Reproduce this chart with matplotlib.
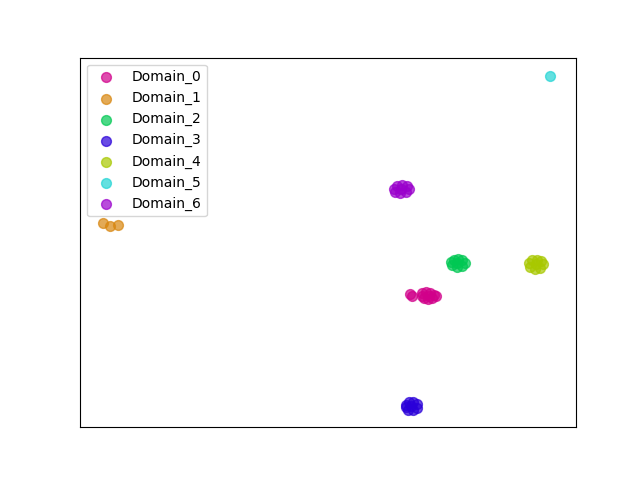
import numpy as np
import matplotlib.pyplot as plt

domains = ['Domain_0', 'Domain_1', 'Domain_2', 'Domain_3', 'Domain_4', 'Domain_5', 'Domain_6']
colors = ['#d1008a', '#d8860f', '#00c853', '#2a00d9', '#a8c800', '#22d4d4', '#9a00cc']

# embedding coordinates per domain (arbitrary units)
x0 = [41.0, 41.2, 42.2, 42.6, 43.0, 43.4, 42.4, 42.8, 43.2, 43.6, 42.2, 42.9]
y0 = [-29.4, -29.6, -29.3, -29.2, -29.3, -29.5, -29.8, -29.9, -29.8, -29.6, -29.6, -29.6]
x1 = [10.3, 11.0, 11.8]
y1 = [-22.3, -22.6, -22.5]
x2 = [45.1, 45.4, 45.8, 46.2, 46.5, 46.2, 45.7, 45.2, 45.7]
y2 = [-26.2, -26.0, -25.9, -26.0, -26.3, -26.6, -26.7, -26.5, -26.3]
x3 = [40.6, 40.9, 41.3, 41.7, 41.7, 41.3, 40.8, 40.6, 41.1]
y3 = [-40.5, -40.2, -40.2, -40.4, -40.8, -41.0, -41.0, -40.7, -40.6]
x4 = [52.9, 53.2, 53.7, 54.1, 54.3, 54.0, 53.5, 53.0, 53.6]
y4 = [-26.3, -26.0, -26.0, -26.1, -26.4, -26.8, -26.9, -26.7, -26.4]
x5 = [55.0]
y5 = [-7.6]
x6 = [39.4, 39.7, 40.2, 40.7, 40.9, 40.6, 40.0, 39.5, 40.1]
y6 = [-18.9, -18.6, -18.5, -18.6, -18.9, -19.2, -19.3, -19.2, -18.9]

xs = [x0, x1, x2, x3, x4, x5, x6]
ys = [y0, y1, y2, y3, y4, y5, y6]

fig, ax = plt.subplots(figsize=(6.4, 4.8), dpi=100)
for name, c, x, y in zip(domains, colors, xs, ys):
    ax.scatter(x, y, s=50, color=c, alpha=0.7, label=name)
ax.set_xlim(8.0, 57.6)
ax.set_ylim(-42.7, -5.8)
ax.set_xticks([])
ax.set_yticks([])
ax.legend(loc='upper left')
plt.savefig('out.png')
